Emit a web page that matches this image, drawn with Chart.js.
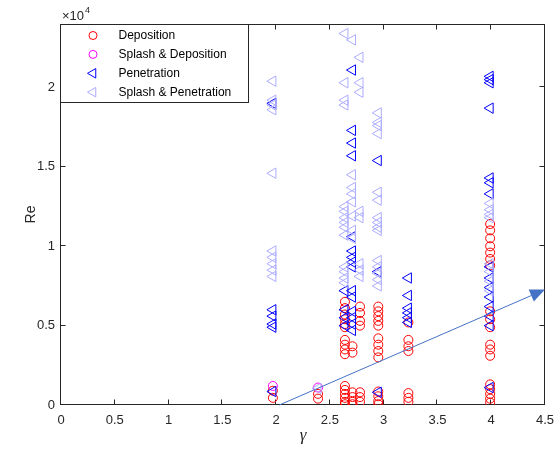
<!DOCTYPE html>
<html><head><meta charset="utf-8">
<script src="https://cdn.jsdelivr.net/npm/chart.js@4/dist/chart.umd.min.js"></script>
<style>html,body{margin:0;padding:0;background:#fff}#wrap{width:555px;height:457px}</style>
</head><body><div id="wrap"><canvas id="c" width="555" height="457"></canvas></div>
<script>
// ---- data (Re values in absolute units; axis shows ×10^4) ----
const seriesNames = ['Deposition', 'Splash & Deposition', 'Penetration', 'Splash & Penetration'];
const gammaCols = [1.97, 2.39, 2.64, 2.71, 2.78, 2.95, 3.23, 3.99];
const depositionRe = [
  [900, 450],
  [700, 400],
  [6500, 6100, 5700, 5400, 5100, 4900, 4100, 3800, 3500, 3200, 1200, 950, 700, 450, 200, 50],
  [3700, 3300, 800, 500, 200, 50],
  [6200, 5800, 5300, 5000, 800, 500, 200],
  [6200, 5900, 5600, 5300, 5000, 4200, 3800, 3400, 3000, 850, 550, 250, 50],
  [5200, 4100, 3700, 3400, 750, 450, 200],
  [11400, 11000, 10500, 10000, 9600, 9200, 8800, 5900, 5400, 4900, 3800, 3500, 3100, 1300, 1000, 700, 400, 150]
];
const splashDepositionRe = [[1200], [1100], [], [], [], [], [], []];
const penetrationRe = [
  [19000, 6000, 5600, 5100, 4900, 850],
  [],
  [7200, 6000, 5500, 5000],
  [21100, 17300, 16500, 15700, 10600, 9700, 9300, 9000, 8700, 7200, 6800, 5900, 5500, 5100, 4700],
  [],
  [15400, 8400, 800],
  [8000, 6900, 6100, 5800, 5500, 5200],
  [20700, 20500, 20300, 18700, 14300, 14000, 13300, 8700, 8000, 7400, 6800, 6200, 5600, 5000, 1100]
];
const splashPenetrationRe = [
  [20400, 19200, 18900, 18600, 14600, 9700, 9300, 8900, 8500, 8100],
  [1050],
  [23400, 20300, 19200, 18900, 12500, 12200, 11800, 11500, 11200, 10700, 8700, 8400, 8000, 7700],
  [23000, 14500, 13700, 13300, 12800, 11900, 11000, 10500],
  [21900, 20300, 19700, 12200, 11800, 8900, 8500, 8100],
  [18400, 17800, 17600, 17100, 13400, 12900, 11800, 11500, 11200, 11000, 9100, 8700, 8300, 7900, 7500],
  [],
  [12700, 12300, 12000, 11800, 8900, 8400, 7800, 7200]
];
const xTicks = [0, 0.5, 1, 1.5, 2, 2.5, 3, 3.5, 4, 4.5];
const yTicks = [0, 0.5, 1, 1.5, 2];   // ×10^4
const yScaleExp = 4;
// trend arrow annotation in data units
const arrowFrom = {gamma: 2.03, re: 0};
const arrowTo = {gamma: 4.5, re: 7270};

function toPoints(cols) {
  const pts = [];
  cols.forEach((list, i) => list.forEach(v => pts.push({x: gammaCols[i], y: v})));
  return pts;
}

const FONT = "'Liberation Sans', Arial, Helvetica, sans-serif";
const AXC = '#262626';
const styles = [
  {color: '#ff0000', pointStyle: 'circle', radius: 4.5, rotation: 0},
  {color: '#ff00ff', pointStyle: 'circle', radius: 4.5, rotation: 0},
  {color: '#0000ff', pointStyle: 'triangle', radius: 6, rotation: -90},
  {color: '#acacff', pointStyle: 'triangle', radius: 6, rotation: -90}
];
const allSeries = [depositionRe, splashDepositionRe, penetrationRe, splashPenetrationRe];
const datasets = allSeries.map((s, i) => ({
  label: seriesNames[i],
  data: toPoints(s),
  showLine: false,
  pointStyle: styles[i].pointStyle,
  pointRotation: styles[i].rotation,
  pointRadius: styles[i].radius,
  pointHoverRadius: styles[i].radius,
  pointBorderWidth: 1,
  pointBorderColor: styles[i].color,
  pointBackgroundColor: 'rgba(0,0,0,0)',
  order: 3 - i
}));

function drawMarker(ctx, st, x, y) {
  ctx.save();
  ctx.strokeStyle = st.color; ctx.lineWidth = 1;
  ctx.beginPath();
  if (st.pointStyle === 'circle') {
    ctx.arc(x, y, st.radius, 0, Math.PI * 2);
  } else {
    let rad = st.rotation * Math.PI / 180;
    for (let k = 0; k < 3; k++) {
      const px = x + Math.sin(rad) * st.radius, py = y - Math.cos(rad) * st.radius;
      if (k === 0) ctx.moveTo(px, py); else ctx.lineTo(px, py);
      rad += 2 * Math.PI / 3;
    }
    ctx.closePath();
  }
  ctx.stroke();
  ctx.restore();
}

const framePlugin = {
  id: 'frame',
  beforeDatasetsDraw(chart) {
    const {ctx, chartArea: a, scales: {x, y}} = chart;
    ctx.save();
    ctx.strokeStyle = AXC; ctx.lineWidth = 1;
    const L = Math.round(a.left) - 0.5, R = Math.round(a.right) - 0.5;
    const T = Math.round(a.top) + 0.5, B = Math.round(a.bottom) - 0.5;
    ctx.strokeRect(L, T, R - L, B - T);
    ctx.beginPath();
    const tl = 5;
    xTicks.forEach(v => {
      const px = Math.round(x.getPixelForValue(v)) - 0.5;
      if (px <= L + 1 || px >= R - 1) return;
      ctx.moveTo(px, B); ctx.lineTo(px, B - tl);
      ctx.moveTo(px, T); ctx.lineTo(px, T + tl);
    });
    yTicks.forEach(v => {
      const py = Math.round(y.getPixelForValue(v * Math.pow(10, yScaleExp))) - 0.5;
      if (py <= T + 1 || py >= B - 1) return;
      ctx.moveTo(L, py); ctx.lineTo(L + tl, py);
      ctx.moveTo(R, py); ctx.lineTo(R - tl, py);
    });
    ctx.stroke();
    ctx.restore();
  },
  afterDraw(chart) {
    const {ctx, chartArea: a, scales: {x, y}} = chart;
    // arrow
    const x0 = x.getPixelForValue(arrowFrom.gamma), y0 = y.getPixelForValue(arrowFrom.re);
    const x1 = x.getPixelForValue(arrowTo.gamma), y1 = y.getPixelForValue(arrowTo.re);
    const ang = Math.atan2(y1 - y0, x1 - x0);
    const hl = 15, hw = 6.5;
    const bx = x1 - Math.cos(ang) * hl, by = y1 - Math.sin(ang) * hl;
    ctx.save();
    ctx.strokeStyle = '#4472c4'; ctx.fillStyle = '#4472c4'; ctx.lineWidth = 1;
    ctx.beginPath(); ctx.moveTo(x0, y0); ctx.lineTo(bx, by); ctx.stroke();
    ctx.beginPath();
    ctx.moveTo(x1, y1);
    ctx.lineTo(bx + Math.sin(ang) * hw, by - Math.cos(ang) * hw);
    ctx.lineTo(bx - Math.sin(ang) * hw, by + Math.cos(ang) * hw);
    ctx.closePath(); ctx.fill();
    ctx.restore();
    // exponent label
    ctx.save();
    ctx.fillStyle = AXC; ctx.textBaseline = 'alphabetic'; ctx.textAlign = 'left';
    ctx.font = '13px ' + FONT;
    const base = '\u00d710';
    ctx.fillText(base, a.left + 1, 20);
    const w = ctx.measureText(base).width;
    ctx.font = '9px ' + FONT;
    ctx.fillText(String(yScaleExp), a.left + 1 + w + 1, 13);
    ctx.restore();
    // legend
    const lx = Math.round(a.left) - 0.5, ly = Math.round(a.top) + 0.5, lw = 188, lh = 78;
    ctx.save();
    ctx.fillStyle = '#fff'; ctx.fillRect(lx, ly, lw, lh);
    ctx.strokeStyle = AXC; ctx.lineWidth = 1; ctx.strokeRect(lx, ly, lw, lh);
    ctx.font = '12px ' + FONT; ctx.fillStyle = '#000'; ctx.textBaseline = 'middle'; ctx.textAlign = 'left';
    seriesNames.forEach((n, i) => {
      const cy = ly + 11 + i * 18.9;
      const st = Object.assign({}, styles[i], {radius: styles[i].radius - 0.5});
      drawMarker(ctx, st, lx + 32.5, cy);
      ctx.fillText(n, lx + 58, cy + 0.5);
    });
    ctx.restore();
  }
};

new Chart(document.getElementById('c'), {
  type: 'scatter',
  data: {datasets},
  plugins: [framePlugin],
  options: {
    responsive: false, animation: false, devicePixelRatio: 1,
    layout: {padding: {left: 0, right: 10, top: 24, bottom: 0}},
    plugins: {legend: {display: false}, tooltip: {enabled: false}},
    scales: {
      x: {
        type: 'linear', min: 0, max: 4.5,
        afterFit: s => { s.height = 52; s.paddingLeft = 0; s.paddingRight = 0; },
        afterBuildTicks: s => { s.ticks = xTicks.map(v => ({value: v})); },
        grid: {display: false, drawTicks: false}, border: {display: false},
        ticks: {padding: 8, color: AXC, font: {family: FONT, size: 13}, maxRotation: 0,
                callback: v => String(v)},
        title: {display: true, text: '\u03b3', color: AXC, padding: {top: 0, bottom: 11},
                font: {family: "'Liberation Serif', 'DejaVu Serif', serif", size: 17, style: 'italic'}}
      },
      y: {
        type: 'linear', min: 0, max: 24000,
        afterFit: s => { s.width = 61; s.paddingTop = 0; s.paddingBottom = 0; },
        afterBuildTicks: s => { s.ticks = yTicks.map(v => ({value: v * Math.pow(10, yScaleExp)})); },
        grid: {display: false, drawTicks: false}, border: {display: false},
        ticks: {padding: 6, color: AXC, font: {family: FONT, size: 13},
                callback: v => String(v / Math.pow(10, yScaleExp))},
        title: {display: true, text: 'Re', color: AXC, padding: {top: 23, bottom: 0},
                font: {family: FONT, size: 14}}
      }
    }
  }
});
</script></body></html>
